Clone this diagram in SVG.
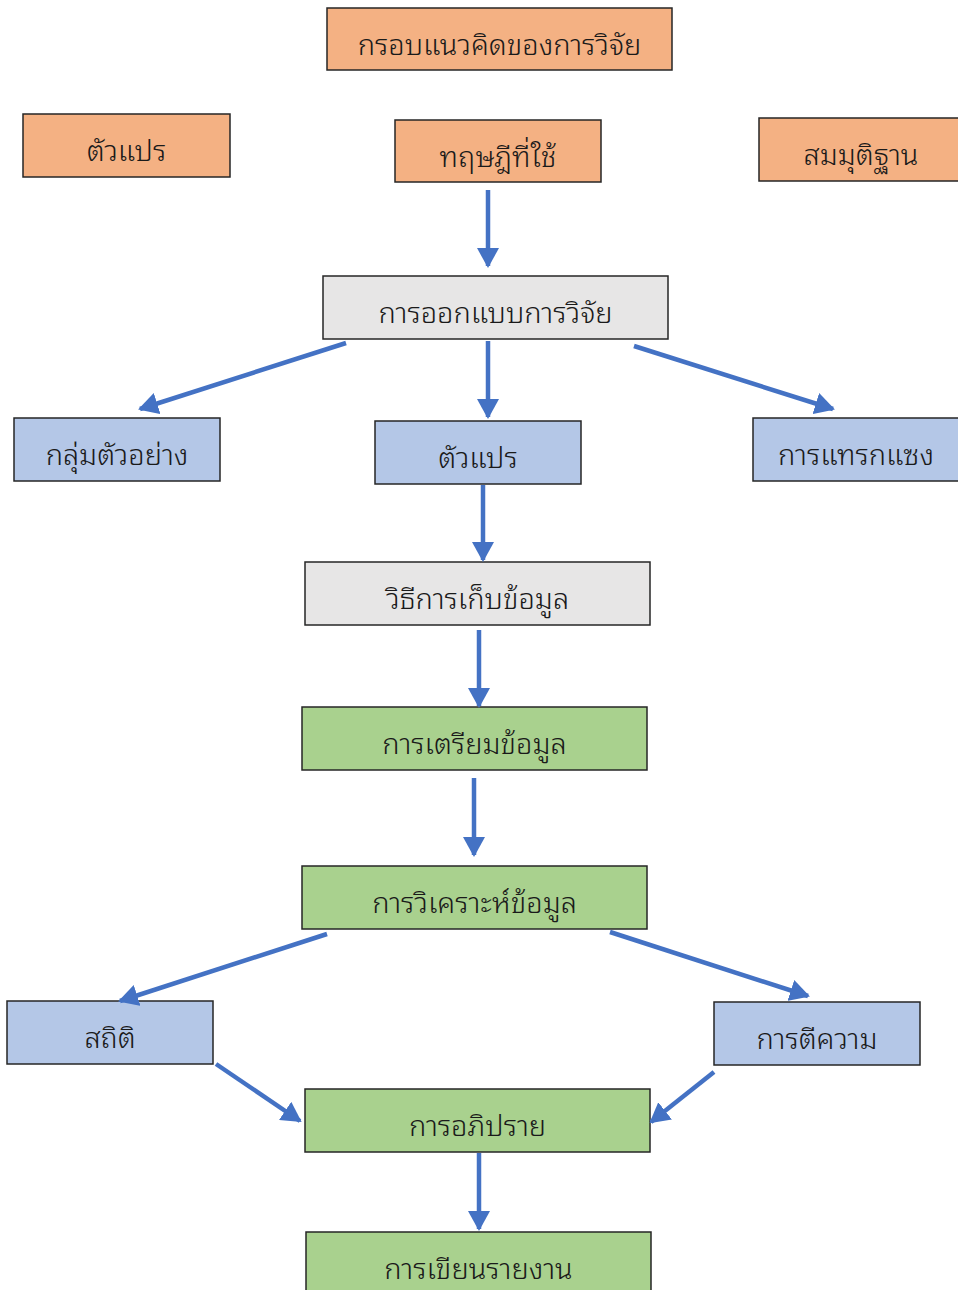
<svg xmlns="http://www.w3.org/2000/svg" width="958" height="1290" viewBox="0 0 958 1290">
<defs>
<style>
.box{stroke:#262626;stroke-width:1.5}
.o{fill:#F4B183}.g{fill:#E7E6E6}.b{fill:#B4C7E7}.gr{fill:#A9D18E}
text{font-family:"Noto Sans Thai Looped","Loma","Garuda","Noto Sans","Noto Sans Thai",sans-serif;font-size:29px;font-weight:300;fill:#1a1a1a;text-anchor:middle}
.c line{stroke:#4472C4;stroke-width:4.5;marker-end:url(#ah)}
</style>
<marker id="ah" markerUnits="userSpaceOnUse" markerWidth="20" markerHeight="22" refX="18" refY="11" orient="auto">
<path d="M0,0 L20,11 L0,22 z" fill="#4472C4"/>
</marker>
</defs>
<rect width="958" height="1290" fill="#fff"/>
<g id="n-title"><rect class="box o" x="327" y="8" width="345" height="62"/><text x="499.5" y="55">กรอบแนวคิดของการวิจัย</text></g>
<g id="n-var1"><rect class="box o" x="23" y="114" width="207" height="63"/><text x="126.5" y="161">ตัวแปร</text></g>
<g id="n-theory"><rect class="box o" x="395" y="120" width="206" height="62"/><text x="498" y="167">ทฤษฎีที่ใช้</text></g>
<g id="n-hyp"><rect class="box o" x="759" y="118" width="205" height="63"/><text x="861" y="165">สมมุติฐาน</text></g>
<g id="n-design"><rect class="box g" x="323" y="276" width="345" height="63"/><text x="495.5" y="323">การออกแบบการวิจัย</text></g>
<g id="n-sample"><rect class="box b" x="14" y="418" width="206" height="63"/><text x="117" y="465">กลุ่มตัวอย่าง</text></g>
<g id="n-var2"><rect class="box b" x="375" y="421" width="206" height="63"/><text x="478" y="468">ตัวแปร</text></g>
<g id="n-interv"><rect class="box b" x="753" y="418" width="210" height="63"/><text x="856" y="465">การแทรกแซง</text></g>
<g id="n-collect"><rect class="box g" x="305" y="562" width="345" height="63"/><text x="477.5" y="609">วิธีการเก็บข้อมูล</text></g>
<g id="n-prep"><rect class="box gr" x="302" y="707" width="345" height="63"/><text x="474.5" y="754">การเตรียมข้อมูล</text></g>
<g id="n-analysis"><rect class="box gr" x="302" y="866" width="345" height="63"/><text x="474.5" y="913">การวิเคราะห์ข้อมูล</text></g>
<g id="n-stat"><rect class="box b" x="7" y="1001" width="206" height="63"/><text x="110" y="1048">สถิติ</text></g>
<g id="n-interp"><rect class="box b" x="714" y="1002" width="206" height="63"/><text x="817" y="1049">การตีความ</text></g>
<g id="n-discuss"><rect class="box gr" x="305" y="1089" width="345" height="63"/><text x="477.5" y="1136">การอภิปราย</text></g>
<g id="n-report"><rect class="box gr" x="306" y="1232" width="345" height="70"/><text x="478.5" y="1279">การเขียนรายงาน</text></g>
<g id="connectors" class="c">
<line x1="488" y1="190" x2="488" y2="266"/>
<line x1="346" y1="343" x2="140" y2="409"/>
<line x1="488" y1="341" x2="488" y2="417"/>
<line x1="634" y1="346" x2="833" y2="409"/>
<line x1="483" y1="485" x2="483" y2="560"/>
<line x1="479" y1="630" x2="479" y2="706"/>
<line x1="474" y1="778" x2="474" y2="855"/>
<line x1="327" y1="934" x2="120" y2="1001"/>
<line x1="610" y1="932" x2="808" y2="996"/>
<line x1="216" y1="1064" x2="300" y2="1121"/>
<line x1="714" y1="1072" x2="651" y2="1122"/>
<line x1="479" y1="1153" x2="479" y2="1229"/>
</g>
</svg>
